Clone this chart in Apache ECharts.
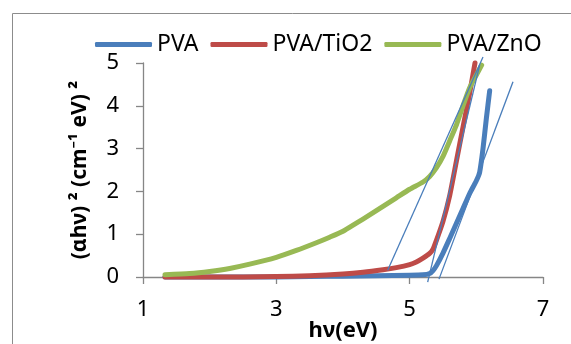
<!DOCTYPE html>
<html>
<head>
<meta charset="utf-8">
<script src="https://cdn.jsdelivr.net/npm/echarts@6/dist/echarts.min.js"></script>
<style>html,body{margin:0;padding:0;background:#fff;}#c{width:571px;height:344px;}</style>
</head>
<body>
<div id="c"></div>
<script>
// ---- data ----
const pvaX = [1.33, 2.0, 2.5, 3.0, 3.5, 4.0, 4.5, 5.0, 5.2, 5.3, 5.35, 5.4, 5.5, 5.6, 5.7, 5.8, 5.9, 6.0, 6.05, 6.1, 6.15, 6.2];
const pvaY = [0.0, 0.0, 0.0, 0.0, 0.01, 0.02, 0.03, 0.04, 0.05, 0.08, 0.15, 0.26, 0.56, 0.9, 1.25, 1.6, 1.95, 2.25, 2.45, 3.0, 3.7, 4.35];
const tioX = [1.33, 2.0, 2.5, 3.0, 3.5, 4.0, 4.3, 4.6, 4.8, 5.0, 5.1, 5.2, 5.3, 5.35, 5.4, 5.5, 5.6, 5.7, 5.8, 5.9, 5.98];
const tioY = [0.0, 0.0, 0.0, 0.01, 0.03, 0.07, 0.11, 0.17, 0.22, 0.29, 0.35, 0.44, 0.55, 0.65, 0.85, 1.3, 1.9, 2.7, 3.5, 4.3, 5.0];
const znoX = [1.33, 1.7, 2.0, 2.3, 2.6, 3.0, 3.3, 3.6, 3.8, 4.0, 4.2, 4.4, 4.6, 4.8, 5.0, 5.2, 5.3, 5.4, 5.5, 5.6, 5.7, 5.8, 5.9, 6.0, 6.08];
const znoY = [0.05, 0.08, 0.13, 0.2, 0.3, 0.46, 0.62, 0.8, 0.93, 1.07, 1.26, 1.45, 1.65, 1.85, 2.05, 2.22, 2.35, 2.55, 2.82, 3.18, 3.55, 4.0, 4.42, 4.72, 4.95];
const fitZnoX = [4.67, 6.1];
const fitZnoY = [0.16, 5.14];
const fitTioX = [5.27, 6.05];
const fitTioY = [-0.12, 4.95];
const fitPvaX = [5.44, 6.55];
const fitPvaY = [-0.05, 4.56];
const seriesNames = ['PVA', 'PVA/TiO2', 'PVA/ZnO'];
const xTicks = [1, 3, 5, 7];
const yTicks = [0, 1, 2, 3, 4, 5];

const pair = (xs, ys) => xs.map((x, i) => [x, ys[i]]);
const colors = ['#4A7EBB', '#BE4B48', '#98B954'];
const font = 'Noto Sans';

const chart = echarts.init(document.getElementById('c'));
const thick = (name, data, color) => ({
  name, type: 'line', data, symbol: 'none', smooth: 0.2, clip: false,
  lineStyle: { color, width: 5, cap: 'round', join: 'round' },
  itemStyle: { color }
});
const thin = (data) => ({
  type: 'line', data, symbol: 'none', clip: false, silent: true, z: 5,
  lineStyle: { color: '#4A7EBB', width: 1.3 }
});
chart.setOption({
  animation: false,
  textStyle: { fontFamily: font },
  graphic: [{
    type: 'rect', shape: { x: 12.5, y: 13.5, width: 600, height: 400 },
    style: { fill: 'none', stroke: '#8c8c8c', lineWidth: 1 }, silent: true, z: -1
  }],
  legend: {
    data: seriesNames, left: 90, top: 28, icon: 'roundRect', itemWidth: 57, itemHeight: 5, itemGap: 12,
    textStyle: { fontFamily: font, fontSize: 23, color: '#000' }
  },
  grid: { left: 143, right: 28, top: 63, bottom: 67, outerBoundsMode: 'none', containLabel: false },
  xAxis: {
    type: 'value', min: xTicks[0], max: xTicks[xTicks.length - 1], interval: 2,
    name: 'hν(eV)', nameLocation: 'middle', nameGap: 43, nameMoveOverlap: false,
    nameTextStyle: { fontFamily: font, fontSize: 22, fontWeight: 'bold', color: '#000' },
    axisLine: { onZero: false, lineStyle: { color: '#868686', width: 1.3 } },
    axisTick: { show: true, length: 7, lineStyle: { color: '#868686', width: 1.3 } },
    axisLabel: { fontFamily: font, fontSize: 22, color: '#000', margin: 22 },
    splitLine: { show: false }
  },
  yAxis: {
    type: 'value', min: yTicks[0], max: yTicks[yTicks.length - 1], interval: 1,
    name: '(αhν) ² (cm⁻¹ eV) ²', nameLocation: 'middle', nameGap: 52, nameRotate: 90, nameMoveOverlap: false,
    nameTextStyle: { fontFamily: font, fontSize: 21, fontWeight: 'bold', color: '#000' },
    axisLine: { show: true, lineStyle: { color: '#868686', width: 1.3 } },
    axisTick: { show: true, length: 7, lineStyle: { color: '#868686', width: 1.3 } },
    axisLabel: { fontFamily: font, fontSize: 22, color: '#000', margin: 24 },
    splitLine: { show: false }
  },
  series: [
    thick(seriesNames[0], pair(pvaX, pvaY), colors[0]),
    thick(seriesNames[1], pair(tioX, tioY), colors[1]),
    thick(seriesNames[2], pair(znoX, znoY), colors[2]),
    thin(pair(fitZnoX, fitZnoY)),
    thin(pair(fitTioX, fitTioY)),
    thin(pair(fitPvaX, fitPvaY))
  ]
});
</script>
</body>
</html>
